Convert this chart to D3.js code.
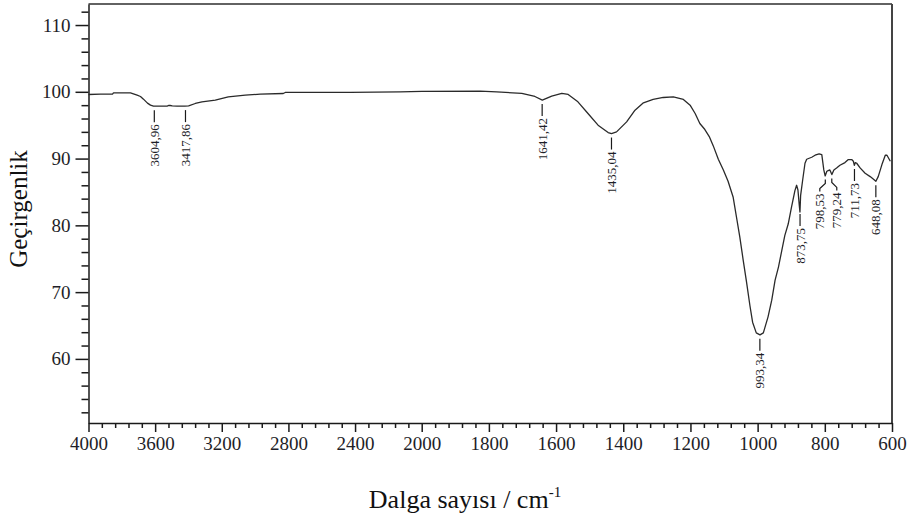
<!DOCTYPE html>
<html>
<head>
<meta charset="utf-8">
<script src="https://cdn.jsdelivr.net/npm/d3@7"></script>
<style>
    body { margin: 0; background: #fff; }
    svg { display: block; font-family: "Liberation Serif", "Times New Roman", serif; }
    .axis text { fill: #1e1e28; }
</style>
</head>
<body>
<div id="chart"></div>
<script>
// FTIR spectrum
const wavenumber = [4000, 3928, 3856, 3850, 3748, 3708, 3688, 3670, 3646, 3628, 3610, 3598, 3528, 3520, 3510, 3497,
    3468, 3422, 3399, 3359, 3319, 3239, 3161, 3059, 2969, 2831, 2819, 2430, 2130, 2000, 1826, 1777, 1702, 1663,
    1641, 1613, 1583, 1564, 1535, 1505, 1475, 1445, 1435, 1420, 1390, 1365, 1340, 1311, 1281, 1251, 1221, 1201,
    1186, 1172, 1157, 1144, 1132, 1117, 1102, 1088, 1073, 1063, 1053, 1043, 1033, 1023, 1015, 1004, 993, 983,
    969, 958, 948, 938, 928, 919, 909, 899, 889, 884, 880, 876, 874, 872, 866, 859, 854, 839, 829, 817, 809,
    803, 799, 794, 790, 785, 779, 773, 765, 755, 740, 730, 720, 715, 712, 709, 705, 695, 680, 665, 655, 648,
    641, 630, 620, 615, 605];
const transmittance = [99.6, 99.65, 99.65, 99.85, 99.85, 99.5, 99.3, 98.9, 98.3, 98.0, 97.85, 97.85, 97.85, 97.95, 97.95, 97.9,
    97.85, 97.85, 97.9, 98.25, 98.5, 98.75, 99.25, 99.5, 99.65, 99.75, 99.9, 99.9, 100.0, 100.05, 100.1, 100.0, 99.75, 99.3,
    98.75, 99.35, 99.75, 99.6, 98.5, 96.75, 95.0, 93.9, 93.75, 94.0, 95.5, 97.25, 98.35, 98.85, 99.15, 99.25, 98.85, 98.0,
    96.75, 95.25, 94.35, 93.3, 91.9, 89.9, 88.3, 86.6, 84.25, 81.25, 78.25, 74.8, 71.5, 68.0, 65.5, 63.9, 63.6, 63.9,
    66.3, 68.8, 71.8, 73.75, 76.25, 78.5, 80.2, 82.75, 85.2, 86.0, 85.3, 83.0, 82.0, 84.5, 86.75, 89.3, 89.9, 90.2, 90.5, 90.7, 90.6,
    88.3, 87.4, 88.1, 88.2, 88.3, 87.6, 88.3, 88.6, 89.0, 89.4, 89.85, 89.85, 89.6, 89.0, 89.4, 89.3, 88.6, 87.8, 87.3, 86.9, 86.6,
    87.3, 89.1, 90.5, 90.5, 89.6];

// annotated peaks
const peakWavenumber = [3604.96, 3417.86, 1641.42, 1435.04, 993.34, 873.75, 798.53, 779.24, 711.73, 648.08];
const peakLabels = ["3604,96", "3417,86", "1641,42", "1435,04", "993,34", "873,75", "798,53", "779,24", "711,73", "648,08"];

const xTickLabels = [4000, 3600, 3200, 2800, 2400, 2000, 1800, 1600, 1400, 1200, 1000, 800, 600];
const yTickLabels = [60, 70, 80, 90, 100, 110];

const width = 909;
const height = 522;

// label leader offsets (px) for the two crowded peaks
const leaderShift = { "798,53": -5.5, "779,24": 5 };

const data = wavenumber.map((w, i) => ({ w: w, t: transmittance[i] }));

// x axis changes scale at 2000 cm-1
const x = d3.scaleLinear()
    .domain([4000, 2000, 600])
    .range([88.5, 421.7, 892]);

const y = d3.scaleLinear()
    .domain([50.4, 113.15])
    .range([423, 4]);

const svg = d3.select("#chart")
    .append("svg")
    .attr("width", width)
    .attr("height", height);

// frame (top and right)
svg.append("line")
    .attr("x1", x(4000)).attr("x2", x(600))
    .attr("y1", y(113.15)).attr("y2", y(113.15))
    .attr("stroke", "#2e2e2e").attr("stroke-width", 1.6);
svg.append("line")
    .attr("x1", x(600)).attr("x2", x(600))
    .attr("y1", y(113.15)).attr("y2", y(50.4))
    .attr("stroke", "#444").attr("stroke-width", 2);

// y axis
const yTicks = d3.range(52, 113, 2);
const yAxis = d3.axisLeft(y)
    .tickValues(yTicks)
    .tickSize(13)
    .tickSizeOuter(0)
    .tickPadding(5)
    .tickFormat(d => yTickLabels.includes(d) ? d : "");

const gy = svg.append("g")
    .attr("class", "axis")
    .attr("transform", `translate(${x(4000)},0)`)
    .call(yAxis);
gy.selectAll(".tick line")
    .attr("x2", d => yTickLabels.includes(d) ? -13 : -7);
gy.selectAll("line, path").attr("stroke", "#1a1a1a").attr("stroke-width", 1.5);
gy.selectAll("text").attr("font-size", 19).attr("font-family", "Liberation Serif");

// x axis: five divisions per labelled interval
const xTicks = d3.range(4000, 2000, -80).concat(d3.range(2000, 599, -40));
const xAxis = d3.axisBottom(x)
    .tickValues(xTicks)
    .tickSize(9)
    .tickSizeOuter(0)
    .tickPadding(5)
    .tickFormat(d => xTickLabels.includes(d) ? d : "");

const gx = svg.append("g")
    .attr("class", "axis")
    .attr("transform", `translate(0,${y(50.4)})`)
    .call(xAxis);
gx.selectAll(".tick line")
    .attr("y2", d => xTickLabels.includes(d) ? 9 : 5);
gx.selectAll("line, path").attr("stroke", "#1a1a1a").attr("stroke-width", 1.5);
gx.selectAll("text").attr("font-size", 19).attr("font-family", "Liberation Serif");

// spectrum
const line = d3.line()
    .x(d => x(d.w))
    .y(d => y(d.t));

svg.append("path")
    .datum(data)
    .attr("fill", "none")
    .attr("stroke", "#2a2a2a")
    .attr("stroke-width", 1.3)
    .attr("stroke-linejoin", "round")
    .attr("d", line);

// transmittance at a given wavenumber (data sorted descending)
function valueAt(w) {
    for (let i = 0; i < data.length - 1; i++) {
        const a = data[i], b = data[i + 1];
        if (w <= a.w && w >= b.w) {
            const f = (a.w - w) / (a.w - b.w);
            return a.t + f * (b.t - a.t);
        }
    }
    return data[data.length - 1].t;
}

// peak markers
const peaks = peakWavenumber.map((w, i) => ({ w: w, label: peakLabels[i] }));

const marks = svg.append("g");
peaks.forEach(p => {
    const px = x(p.w);
    const py = y(valueAt(p.w));
    const shift = leaderShift[p.label] || 0;
    const lx = px + shift;
    let pts;
    if (shift) {
        pts = [[px, py + 4], [px, py + 8], [lx, py + 13], [lx, py + 16]];
    } else {
        pts = [[px, py + 4], [px, py + 16]];
    }
    marks.append("path")
        .attr("d", d3.line()(pts))
        .attr("fill", "none")
        .attr("stroke", "#1a1a1a")
        .attr("stroke-width", 1.2);
    marks.append("text")
        .attr("transform", `translate(${lx},${py + 18}) rotate(-90)`)
        .attr("text-anchor", "end")
        .attr("dy", "0.35em")
        .attr("font-size", 13)
        .attr("fill", "#1e1e28")
        .text(p.label);
});

// axis titles
const xTitle = svg.append("text")
    .attr("x", 465)
    .attr("y", 508)
    .attr("text-anchor", "middle")
    .attr("font-size", 26)
    .attr("fill", "#111");
xTitle.append("tspan").text("Dalga sayısı / cm");
xTitle.append("tspan")
    .attr("font-size", 15)
    .attr("dy", -11)
    .text("-1");

svg.append("text")
    .attr("transform", "translate(26.5,209) rotate(-90)")
    .attr("text-anchor", "middle")
    .attr("font-size", 25)
    .attr("fill", "#111")
    .text("Geçirgenlik");
</script>
</body>
</html>
